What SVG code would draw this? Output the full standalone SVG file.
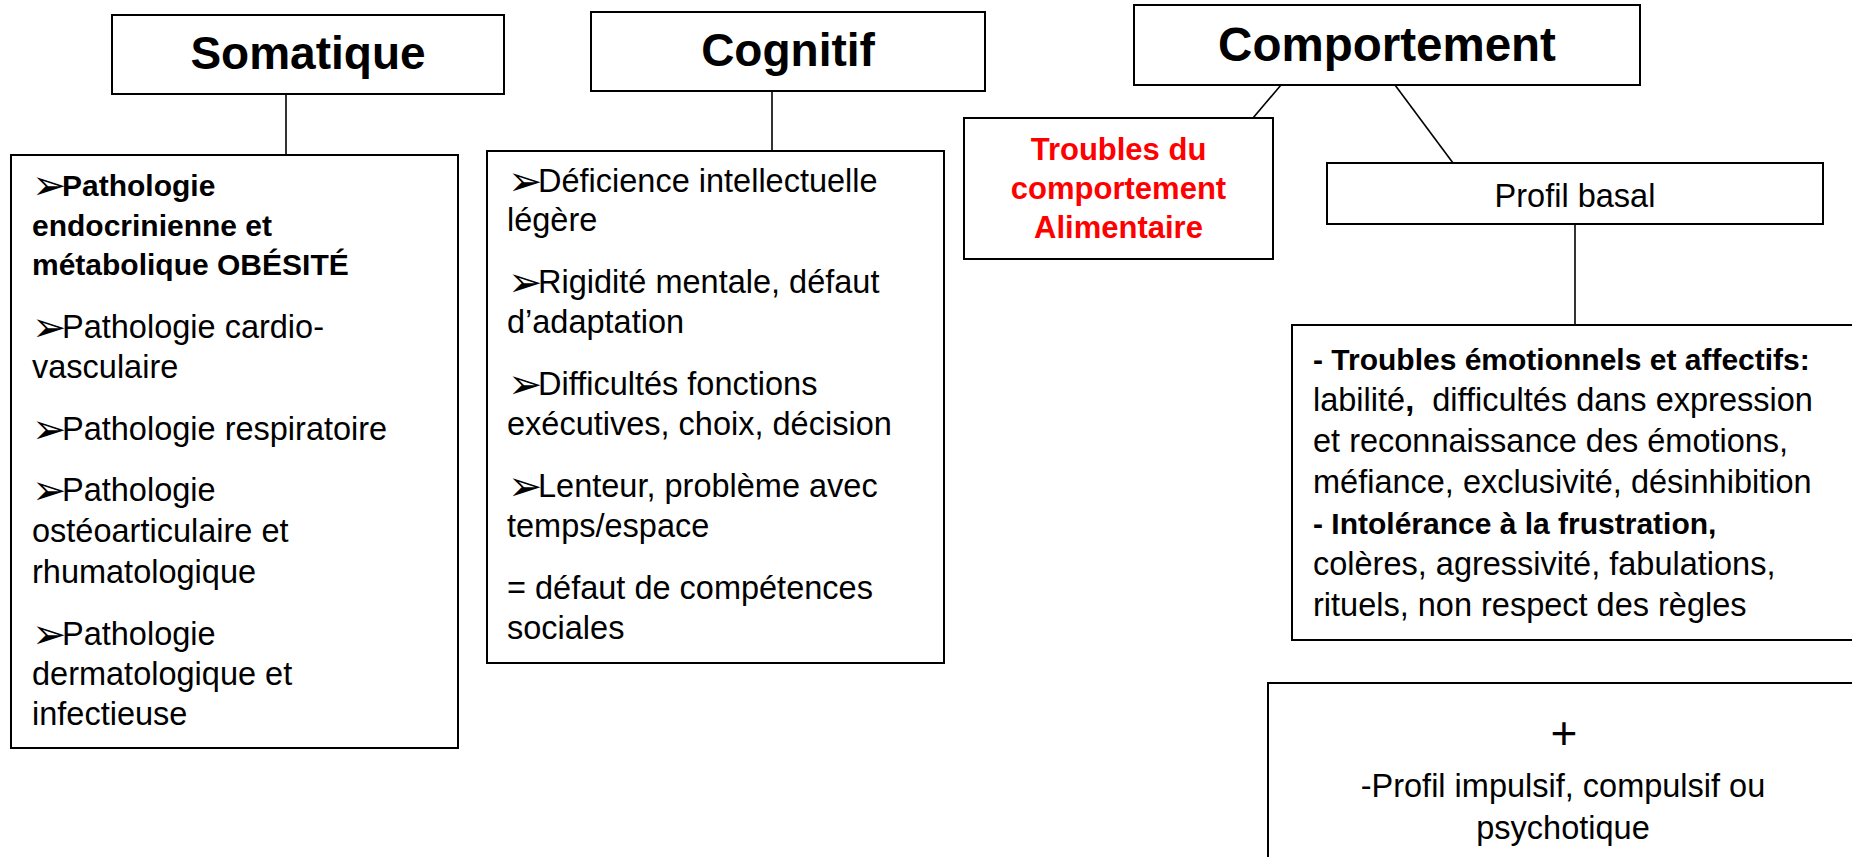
<svg xmlns="http://www.w3.org/2000/svg" width="1852" height="857" viewBox="0 0 1852 857">
<style>
  .box{fill:#fff;stroke:#000;stroke-width:2}
  .ln{stroke:#000;stroke-width:1.6;fill:none}
  text{font-family:"Liberation Sans",Arial,sans-serif;fill:#000}
  .hd{font-size:46px;font-weight:bold;text-anchor:middle}
  .tx{font-size:32.5px}
  .bd{font-size:30px;font-weight:bold}
  .ar{font-family:"DejaVu Sans",sans-serif;font-size:41px;font-weight:normal}
  .red{font-size:31px;font-weight:bold;fill:#ff0000;text-anchor:middle}
  .mid{text-anchor:middle}
</style>
<rect x="0" y="0" width="1852" height="857" fill="#fff"/>
<g id="connectors">
  <line class="ln" x1="286" y1="94" x2="286" y2="155"/>
  <line class="ln" x1="772" y1="91" x2="772" y2="151"/>
  <line class="ln" x1="1281" y1="85" x2="1253" y2="118"/>
  <line class="ln" x1="1395" y1="85" x2="1453" y2="163"/>
  <line class="ln" x1="1575" y1="224" x2="1575" y2="325"/>
</g>
<g id="somatique">
  <rect class="box" x="112" y="15" width="392" height="79"/>
  <text class="hd" x="308" y="69">Somatique</text>
</g>
<g id="somatique-list">
  <rect class="box" x="11" y="155" width="447" height="593"/>
  <text class="ar" x="32" y="199">➢</text><text class="bd" x="62" y="196">Pathologie</text>
  <text class="bd" x="32" y="235.5">endocrinienne et</text>
  <text class="bd" x="32" y="275">métabolique OBÉSITÉ</text>
  <text class="ar" x="32" y="341">➢</text><text class="tx" x="62" y="338">Pathologie cardio-</text>
  <text class="tx" x="32" y="378">vasculaire</text>
  <text class="ar" x="32" y="443">➢</text><text class="tx" x="62" y="440">Pathologie respiratoire</text>
  <text class="ar" x="32" y="504">➢</text><text class="tx" x="62" y="501">Pathologie</text>
  <text class="tx" x="32" y="542">ostéoarticulaire et</text>
  <text class="tx" x="32" y="583">rhumatologique</text>
  <text class="ar" x="32" y="648">➢</text><text class="tx" x="62" y="645">Pathologie</text>
  <text class="tx" x="32" y="685">dermatologique et</text>
  <text class="tx" x="32" y="725">infectieuse</text>
</g>
<g id="cognitif">
  <rect class="box" x="591" y="12" width="394" height="79"/>
  <text class="hd" x="788" y="66">Cognitif</text>
</g>
<g id="cognitif-list">
  <rect class="box" x="487" y="151" width="457" height="512"/>
  <text class="ar" x="508" y="195">➢</text><text class="tx" x="538" y="192">Déficience intellectuelle</text>
  <text class="tx" x="507" y="231">légère</text>
  <text class="ar" x="508" y="296">➢</text><text class="tx" x="538" y="293">Rigidité mentale, défaut</text>
  <text class="tx" x="507" y="333">d’adaptation</text>
  <text class="ar" x="508" y="398">➢</text><text class="tx" x="538" y="395">Difficultés fonctions</text>
  <text class="tx" x="507" y="435">exécutives, choix, décision</text>
  <text class="ar" x="508" y="500">➢</text><text class="tx" x="538" y="497">Lenteur, problème avec</text>
  <text class="tx" x="507" y="537">temps/espace</text>
  <text class="tx" x="507" y="599">= défaut de compétences</text>
  <text class="tx" x="507" y="639">sociales</text>
</g>
<g id="comportement">
  <rect class="box" x="1134" y="5" width="506" height="80"/>
  <text class="hd" x="1387" y="61" style="font-size:47.5px">Comportement</text>
</g>
<g id="troubles-alimentaire">
  <rect class="box" x="964" y="118" width="309" height="141"/>
  <text class="red" x="1118.5" y="160">Troubles du</text>
  <text class="red" x="1118.5" y="199">comportement</text>
  <text class="red" x="1118.5" y="238">Alimentaire</text>
</g>
<g id="profil-basal">
  <rect class="box" x="1327" y="163" width="496" height="61"/>
  <text class="tx mid" x="1575" y="207">Profil basal</text>
</g>
<g id="troubles-emotionnels">
  <rect class="box" x="1292" y="325" width="580" height="315"/>
  <text class="bd" x="1313" y="370">- Troubles émotionnels et affectifs:</text>
  <text class="tx" x="1313" y="411" style="white-space:pre">labilité<tspan font-weight="bold">,</tspan>  difficultés dans expression</text>
  <text class="tx" x="1313" y="452">et reconnaissance des émotions,</text>
  <text class="tx" x="1313" y="493">méfiance, exclusivité, désinhibition</text>
  <text class="bd" x="1313" y="534">- Intolérance à la frustration,</text>
  <text class="tx" x="1313" y="575">colères, agressivité, fabulations,</text>
  <text class="tx" x="1313" y="616">rituels, non respect des règles</text>
</g>
<g id="profil-impulsif">
  <rect class="box" x="1268" y="683" width="600" height="200"/>
  <text class="mid" x="1564" y="749" style="font-size:46px">+</text>
  <text class="tx mid" x="1563" y="797">-Profil impulsif, compulsif ou</text>
  <text class="tx mid" x="1563" y="839">psychotique</text>
</g>
</svg>
